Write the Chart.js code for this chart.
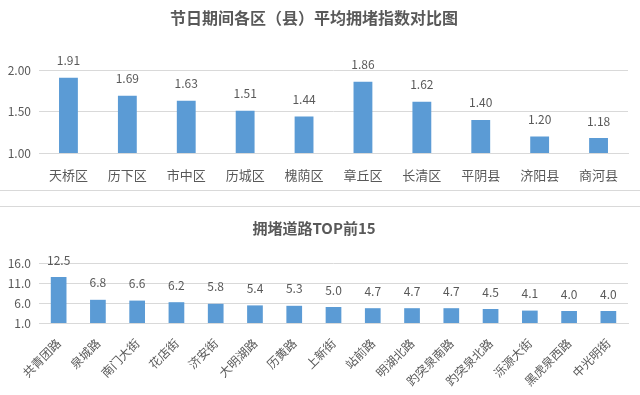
<!DOCTYPE html>
<html>
<head>
<meta charset="utf-8">
<script src="https://cdn.jsdelivr.net/npm/chart.js@4"></script>
<style>
  html, body { margin: 0; padding: 0; background: #fff; }
  body { width: 640px; height: 395px; position: relative; overflow: hidden; }
  #topBox { position: absolute; left: 0; top: 0; width: 640px; height: 190px; border-bottom: 1px solid #d9d9d9; }
  #bottomBox { position: absolute; left: 0; top: 206px; width: 640px; height: 189px; border-top: 1px solid #d9d9d9; }
</style>
</head>
<body>
<div id="topBox"><canvas id="districtChart"></canvas></div>
<div id="bottomBox"><canvas id="roadChart"></canvas></div>
<script>
// 各区（县）平均拥堵指数
const districts = ['天桥区', '历下区', '市中区', '历城区', '槐荫区', '章丘区', '长清区', '平阴县', '济阳县', '商河县'];
const districtIndex = [1.91, 1.69, 1.63, 1.51, 1.44, 1.86, 1.62, 1.40, 1.20, 1.18];
const districtTicks = [1.00, 1.50, 2.00];

// 拥堵道路 TOP15
const roads = ['共青团路', '泉城路', '南门大街', '花店街', '济安街', '大明湖路', '历黄路', '上新街', '站前路', '明湖北路', '趵突泉南路', '趵突泉北路', '泺源大街', '黑虎泉西路', '中光明街'];
const roadIndex = [12.5, 6.8, 6.6, 6.2, 5.8, 5.4, 5.3, 5.0, 4.7, 4.7, 4.7, 4.5, 4.1, 4.0, 4.0];
const roadTicks = [1.0, 6.0, 11.0, 16.0];

const BAR = '#5b9bd5';
const TEXT = '#595959';
const GRID = '#d9d9d9';
const NUM_FONT = '"Liberation Sans Narrow", "Noto Sans CJK SC", sans-serif';
const CJK_FONT = '"Noto Sans CJK SC", sans-serif';

// 柱顶数值标签
const valueLabels = {
    id: 'valueLabels',
    afterDatasetsDraw(chart, args, opts) {
        const ctx = chart.ctx;
        const values = chart.data.datasets[0].data;
        ctx.save();
        ctx.font = opts.font;
        ctx.fillStyle = TEXT;
        ctx.textAlign = 'center';
        ctx.textBaseline = 'bottom';
        chart.getDatasetMeta(0).data.forEach((bar, i) => {
            ctx.fillText(values[i].toFixed(opts.digits), bar.x, bar.y - opts.offset);
        });
        ctx.restore();
    }
};

function makeChart(el, cfg) {
    return new Chart(el, {
        type: 'bar',
        data: {
            labels: cfg.labels,
            datasets: [{
                data: cfg.values,
                backgroundColor: BAR,
                barPercentage: cfg.barPct,
                categoryPercentage: 1
            }]
        },
        options: {
            responsive: true,
            maintainAspectRatio: false,
            animation: false,
            layout: { padding: { left: 0, right: 12, top: 0, bottom: 0 } },
            plugins: {
                legend: { display: false },
                tooltip: { enabled: false },
                title: {
                    display: true,
                    text: cfg.title,
                    color: TEXT,
                    font: { family: CJK_FONT, size: cfg.titleSize, weight: 'bold' },
                    padding: { top: cfg.titleTop, bottom: cfg.titleBottom }
                },
                valueLabels: { font: '12px ' + NUM_FONT, digits: cfg.digits, offset: 11 }
            },
            scales: {
                x: {
                    grid: { display: false },
                    border: { display: true, color: GRID },
                    ticks: {
                        color: TEXT,
                        font: { family: CJK_FONT, size: cfg.xFont },
                        minRotation: cfg.rotate,
                        maxRotation: cfg.rotate,
                        padding: cfg.xPad,
                        autoSkip: false
                    },
                    afterFit(scale) { scale.height = cfg.xHeight; }
                },
                y: {
                    min: cfg.ticks[0],
                    max: cfg.ticks[cfg.ticks.length - 1],
                    afterBuildTicks(scale) { scale.ticks = cfg.ticks.map(v => ({ value: v })); },
                    grid: { color: GRID, drawTicks: false },
                    border: { display: false },
                    ticks: {
                        color: TEXT,
                        font: { family: NUM_FONT, size: 12 },
                        padding: 8,
                        callback: v => v.toFixed(cfg.tickDigits)
                    },
                    afterFit(scale) { scale.width = 39; }
                }
            }
        },
        plugins: [valueLabels]
    });
}

makeChart(document.getElementById('districtChart'), {
    labels: districts, values: districtIndex, ticks: districtTicks,
    title: '节日期间各区（县）平均拥堵指数对比图', titleSize: 16, titleTop: 8, titleBottom: 43,
    barPct: 0.32, digits: 2, tickDigits: 2, xFont: 13, rotate: 0, xPad: 6, xHeight: 37
});

makeChart(document.getElementById('roadChart'), {
    labels: roads, values: roadIndex, ticks: roadTicks,
    title: '拥堵道路TOP前15', titleSize: 15, titleTop: 12, titleBottom: 26,
    barPct: 0.4, digits: 1, tickDigits: 1, xFont: 12, rotate: 45, xPad: 5, xHeight: 73
});
</script>
</body>
</html>
